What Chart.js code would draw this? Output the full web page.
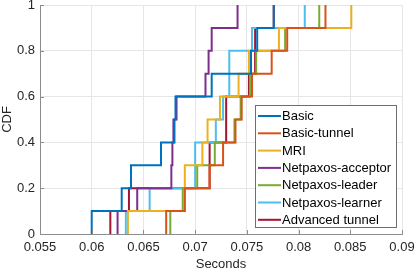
<!DOCTYPE html>
<html>
<head>
<meta charset="utf-8">
<script src="https://cdn.jsdelivr.net/npm/chart.js@4/dist/chart.umd.min.js"></script>
<style>
  html, body { margin: 0; padding: 0; background: #fff; }
  canvas { display: block; }
</style>
</head>
<body>
<canvas id="cdf" width="415" height="272"></canvas>
<script>
// CDF levels reached after each sample
const levels = [0.1, 0.2, 0.3, 0.4, 0.5, 0.6, 0.7, 0.8, 0.9, 1.0];

// sorted latency samples (seconds)
const basic       = [0.0600, 0.0629, 0.0638, 0.0667, 0.0680, 0.0681, 0.0716, 0.0754, 0.0760, 0.0776];
const basicTunnel = [0.0672, 0.0690, 0.0714, 0.0727, 0.0739, 0.0745, 0.0755, 0.0774, 0.0789, 0.0826];
const mri         = [0.0635, 0.0690, 0.0690, 0.0707, 0.0712, 0.0724, 0.0742, 0.0752, 0.0781, 0.0851];
const acceptor    = [0.0625, 0.0644, 0.0677, 0.0678, 0.0679, 0.0682, 0.0710, 0.0713, 0.0716, 0.0741];
const leader      = [0.0676, 0.0688, 0.0702, 0.0719, 0.0738, 0.0744, 0.0753, 0.0759, 0.0787, 0.0820];
const learner     = [0.0633, 0.0656, 0.0700, 0.0700, 0.0720, 0.0727, 0.0733, 0.0733, 0.0755, 0.0806];
const advanced    = [0.0618, 0.0636, 0.0714, 0.0714, 0.0730, 0.0730, 0.0752, 0.0758, 0.0758, 0.0776];

const seriesNames = ['Basic', 'Basic-tunnel', 'MRI', 'Netpaxos-acceptor', 'Netpaxos-leader', 'Netpaxos-learner', 'Advanced tunnel'];
const seriesData = [basic, basicTunnel, mri, acceptor, leader, learner, advanced];
const colors = ['#0072BD', '#D95319', '#EDB120', '#7E2F8E', '#77AC30', '#4DBEEE', '#A2142F'];

const xTicks = [0.055, 0.06, 0.065, 0.07, 0.075, 0.08, 0.085, 0.09];
const yTicks = [0, 0.2, 0.4, 0.6, 0.8, 1];

const FONT = 'Liberation Sans, Arial, Helvetica, sans-serif';
const TXT = '#262626';

// turn samples into step points starting at 0
function cdfPoints(vals) {
  const pts = [{ x: vals[0], y: 0 }];
  vals.forEach((v, i) => pts.push({ x: v, y: levels[i] }));
  return pts;
}

// inward tick marks + legend box drawn inside the axes
const extras = {
  id: 'extras',
  afterDraw(chart) {
    const ctx = chart.ctx;
    const xs = chart.scales.x, ys = chart.scales.y;
    const a = chart.chartArea;
    ctx.save();
    ctx.strokeStyle = '#8c8c8c';
    ctx.lineWidth = 1;
    xTicks.forEach(t => {
      const px = Math.round(xs.getPixelForValue(t)) + 0.5;
      ctx.beginPath(); ctx.moveTo(px, a.bottom); ctx.lineTo(px, a.bottom - 4); ctx.stroke();
    });
    yTicks.forEach(t => {
      const py = Math.round(ys.getPixelForValue(t)) + 0.5;
      ctx.beginPath(); ctx.moveTo(a.left, py); ctx.lineTo(a.left + 4, py); ctx.stroke();
    });

    // legend
    const bx = 255.5, by = 105.5, bw = 141, bh = 122;
    ctx.fillStyle = '#fff';
    ctx.fillRect(bx, by, bw, bh);
    ctx.strokeStyle = '#6e6e6e';
    ctx.strokeRect(bx, by, bw, bh);
    ctx.font = '13px ' + FONT;
    ctx.textBaseline = 'middle';
    ctx.textAlign = 'left';
    chart.data.datasets.forEach((ds, i) => {
      const cy = 116 + i * 17.3;
      ctx.strokeStyle = ds.borderColor;
      ctx.lineWidth = 2;
      ctx.beginPath(); ctx.moveTo(258, cy); ctx.lineTo(281, cy); ctx.stroke();
      ctx.fillStyle = '#000';
      ctx.fillText(ds.label, 282, cy + 0.5);
    });
    ctx.restore();
  }
};

new Chart(document.getElementById('cdf'), {
  type: 'scatter',
  data: {
    datasets: seriesData.map((vals, i) => ({
      label: seriesNames[i],
      data: cdfPoints(vals),
      showLine: true,
      stepped: 'before',
      borderColor: colors[i],
      backgroundColor: colors[i],
      borderWidth: 2,
      pointRadius: 0,
      pointHoverRadius: 0,
      fill: false,
    })),
  },
  options: {
    responsive: false,
    animation: false,
    devicePixelRatio: 1,
    layout: { padding: { top: 5, right: 13, left: 0, bottom: 0 } },
    plugins: {
      legend: { display: false },
      tooltip: { enabled: false },
    },
    scales: {
      x: {
        type: 'linear',
        min: 0.055,
        max: 0.09,
        afterBuildTicks: s => { s.ticks = xTicks.map(v => ({ value: v })); },
        afterFit: s => { s.height = 38; s.paddingLeft = 0; s.paddingRight = 0; },
        grid: { color: '#e6e6e6', drawTicks: false },
        border: { color: '#8c8c8c' },
        ticks: {
          padding: 6,
          color: TXT,
          font: { family: FONT, size: 13 },
          callback: v => String(Math.round(v * 1000) / 1000),
          maxRotation: 0,
        },
        title: {
          display: true,
          text: 'Seconds',
          color: TXT,
          font: { family: FONT, size: 13 },
          padding: { top: 0, bottom: 0 },
        },
      },
      y: {
        min: 0,
        max: 1,
        afterBuildTicks: s => { s.ticks = yTicks.map(v => ({ value: v })); },
        afterFit: s => { s.width = 40; s.paddingTop = 0; s.paddingBottom = 0; },
        grid: { color: '#e6e6e6', drawTicks: false },
        border: { color: '#8c8c8c' },
        ticks: {
          padding: 5,
          color: TXT,
          font: { family: FONT, size: 13 },
          callback: v => String(Math.round(v * 10) / 10),
        },
        title: {
          display: true,
          text: 'CDF',
          color: TXT,
          font: { family: FONT, size: 13 },
          padding: { top: 0, bottom: 0 },
        },
      },
    },
  },
  plugins: [extras],
});
</script>
</body>
</html>
